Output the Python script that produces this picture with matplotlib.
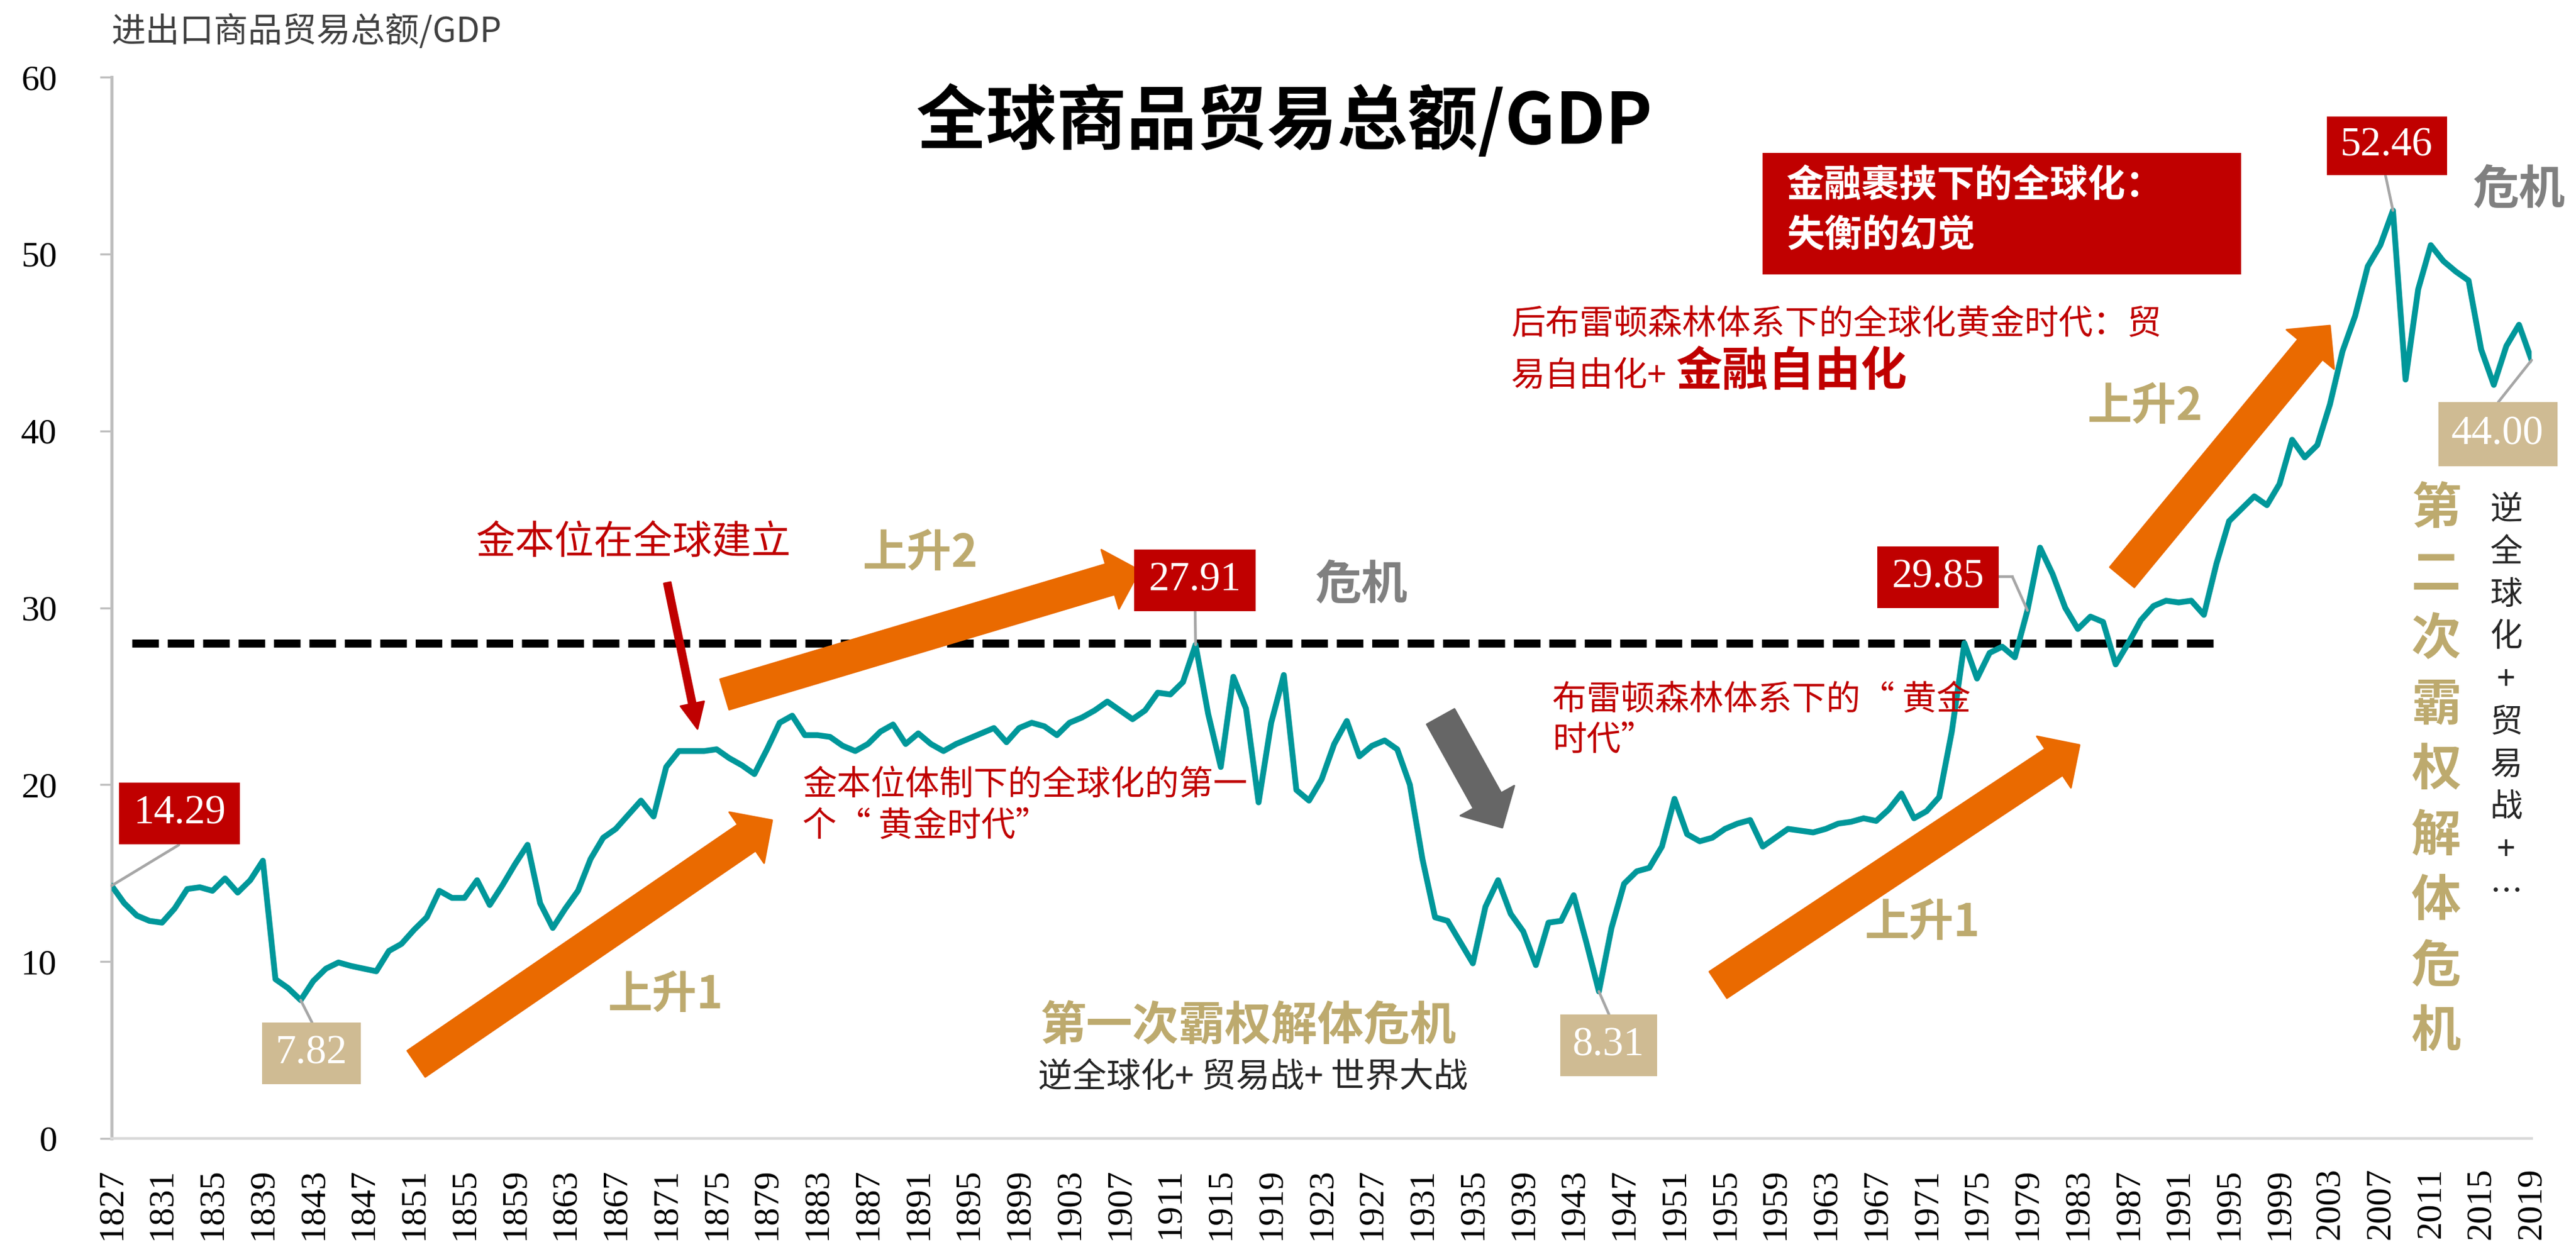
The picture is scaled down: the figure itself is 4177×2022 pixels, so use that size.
import numpy as np
import matplotlib
matplotlib.use('Agg')
import matplotlib.pyplot as plt
from matplotlib.patches import Rectangle, FancyArrowPatch, ArrowStyle
from matplotlib.lines import Line2D
from matplotlib.transforms import Affine2D

plt.rcParams['font.family'] = ['Noto Sans CJK SC', 'DejaVu Sans']

# 进出口商品贸易总额/GDP (%)，1827-2019
years = np.arange(1827, 2020)
trade_gdp = [
    14.29, 13.3, 12.6, 12.3, 12.2, 13.0, 14.1, 14.2, 14.0, 14.7,
    13.9, 14.6, 15.7, 9.0, 8.5, 7.82, 8.9, 9.6, 9.95, 9.75,
    9.6, 9.45, 10.6, 11.0, 11.8, 12.5, 14.0, 13.6, 13.6, 14.6,
    13.2, 14.3, 15.5, 16.6, 13.3, 11.9, 13.0, 14.0, 15.8, 17.0,
    17.5, 18.3, 19.1, 18.2, 21.0, 21.9, 21.9, 21.9, 22.0, 21.5,
    21.1, 20.6, 22.0, 23.5, 23.9, 22.8, 22.8, 22.7, 22.2, 21.9,
    22.3, 23.0, 23.4, 22.3, 22.9, 22.3, 21.9, 22.3, 22.6, 22.9,
    23.2, 22.4, 23.2, 23.5, 23.3, 22.8, 23.5, 23.8, 24.2, 24.7,
    24.2, 23.7, 24.2, 25.2, 25.1, 25.8, 27.91, 24.0, 21.0, 26.1,
    24.3, 19.0, 23.5, 26.2, 19.7, 19.1, 20.3, 22.3, 23.6, 21.6,
    22.2, 22.5, 22.0, 20.0, 15.8, 12.5, 12.3, 11.1, 9.9, 13.1,
    14.6, 12.7, 11.7, 9.8, 12.2, 12.3, 13.75, 11.1, 8.31, 11.9,
    14.4, 15.1, 15.3, 16.5, 19.2, 17.2, 16.8, 17.0, 17.5, 17.8,
    18.0, 16.5, 17.0, 17.5, 17.4, 17.3, 17.5, 17.8, 17.9, 18.1,
    17.95, 18.6, 19.5, 18.1, 18.5, 19.3, 23.0, 28.0, 26.0, 27.45,
    27.8, 27.2, 29.85, 33.4, 31.9, 30.0, 28.8, 29.5, 29.2, 26.8,
    28.0, 29.3, 30.1, 30.4, 30.3, 30.4, 29.6, 32.5, 34.9, 35.6,
    36.3, 35.8, 37.0, 39.5, 38.5, 39.2, 41.5, 44.5, 46.5, 49.3,
    50.5, 52.46, 42.9, 48.0, 50.5, 49.6, 49.0, 48.5, 44.6, 42.6,
    44.8, 46.0, 44.0,
]
xtick_years = list(range(1827, 2020, 4))
ytick_vals = [0, 10, 20, 30, 40, 50, 60]

# 标注点
callout_years = [1827, 1842, 1913, 1945, 1979, 2008, 2019]
callout_vals = [14.29, 7.82, 27.91, 8.31, 29.85, 52.46, 44.00]
callout_kind = ['high', 'low', 'high', 'low', 'high', 'high', 'low']

# 危机线
ref_level = 28
ref_start, ref_end = 1828.6, 1994.4

RED = '#C00000'
TEAL = '#00979A'
ORANGE = '#EA6A00'
TAN_BOX = '#CFBB93'
TAN_TXT = '#BDAA6E'
GREY = '#808080'

W, H = 4177, 2022
fig = plt.figure(figsize=(W / 200, H / 200), dpi=200)
ax = fig.add_axes([181 / W, 176 / H, (4105 - 181) / W, (1846 - 125) / H])
px = Affine2D().scale(1 / W, -1 / H).translate(0, 1) + fig.transFigure

ax.plot(years, trade_gdp, color=TEAL, lw=3.4, solid_joinstyle='round',
        solid_capstyle='round', zorder=3)
ax.hlines(ref_level, ref_start, ref_end, colors='black', lw=4.7,
          linestyles=(0, (3.3, 1.1)), zorder=2)

ax.set_xlim(1827, 2019)
ax.set_ylim(0, 60)
ax.set_xticks(xtick_years)
ax.set_xticklabels([str(y) for y in xtick_years], rotation=90,
                   family='Liberation Serif', fontsize=21)
ax.set_yticks(ytick_vals)
ax.set_yticklabels([str(v) for v in ytick_vals], family='Liberation Serif', fontsize=21)
ax.tick_params(axis='x', length=0, pad=17)
ax.tick_params(axis='y', length=6.8, width=1.2, color='#BFBFBF', pad=25)
for s in ['top', 'right']:
    ax.spines[s].set_visible(False)
ax.spines['left'].set_color('#BFBFBF')
ax.spines['left'].set_linewidth(1.8)
ax.spines['bottom'].set_color('#D9D9D9')
ax.spines['bottom'].set_linewidth(1.6)

# 数值框 (中心x, 中心y, 宽, 高, 引线起点)
boxes = [
    (291, 1319, 196, 100, (290, 1370)),
    (505, 1708, 160, 100, (506, 1658)),
    (1937, 941, 197, 100, (1938, 991)),
    (2608, 1695, 157, 100, (2609, 1645)),
    (3142, 936, 197, 100, (3263, 935)),
    (3870, 236, 195, 95, (3868, 284)),
    (4050, 704, 193, 104, (4051, 652)),
]
for (cx, cy, bw, bh, lead), yr, val, kind in zip(boxes, callout_years, callout_vals, callout_kind):
    fc = RED if kind == 'high' else TAN_BOX
    fig.add_artist(Rectangle((cx - bw / 2, cy - bh / 2), bw, bh, transform=px,
                             facecolor=fc, edgecolor='none', zorder=4))
    fig.text(cx, cy, f'{val:.2f}', transform=px, ha='center', va='center',
             color='white', family='Liberation Serif', fontsize=24, zorder=5)
    ax.annotate('', xy=(yr, val), xycoords='data', xytext=lead, textcoords=px,
                arrowprops=dict(arrowstyle='-', color='#A6A6A6', lw=1.6,
                                shrinkA=0, shrinkB=0), zorder=4)
# 29.85 的折线引线
fig.add_artist(Line2D([3240, 3263], [935, 935], transform=px, color='#A6A6A6', lw=1.6))

# 箭头
big = ArrowStyle('Simple', head_length=18, head_width=36, tail_width=18.5)
for a, b, c in [((675, 1725), (1252, 1330), ORANGE),
                ((1175, 1126), (1848, 925), ORANGE),
                ((2786, 1597), (3372, 1208), ORANGE),
                ((3441, 936), (3778, 528), ORANGE),
                ((2336, 1162), (2436, 1342), '#666666')]:
    fig.add_artist(FancyArrowPatch(a, b, transform=px, arrowstyle=big, mutation_scale=1,
                                   color=c, shrinkA=0, shrinkB=0, zorder=3))
fig.add_artist(FancyArrowPatch((1082, 945), (1131, 1182), transform=px,
                               arrowstyle=ArrowStyle('Simple', head_length=15, head_width=14, tail_width=4),
                               mutation_scale=1, color=RED, shrinkA=0, shrinkB=0, zorder=3))

# 文字
def t(x, y, s, ha='center', **kw):
    fig.text(x, y, s, transform=px, ha=ha, va='center', **kw)

t(2082, 198, '全球商品贸易总额/GDP', fontsize=41, weight='bold', color='black')
t(181, 52, '进出口商品贸易总额/GDP', ha='left', fontsize=20, color='#404040')

t(1027, 880, '金本位在全球建立', fontsize=23, color=RED)
t(1492, 898, '上升2', fontsize=26, weight='bold', color=TAN_TXT)
t(1079, 1614, '上升1', fontsize=26, weight='bold', color=TAN_TXT)
t(3117, 1497, '上升1', fontsize=26, weight='bold', color=TAN_TXT)
t(3478, 660, '上升2', fontsize=26, weight='bold', color=TAN_TXT)
t(2207, 949, '危机', fontsize=27, weight='bold', color=GREY)
t(4084, 308, '危机', fontsize=27, weight='bold', color=GREY)

t(1301, 1273, '金本位体制下的全球化的第一', ha='left', fontsize=20, color=RED)
t(1301, 1340, '个“ 黄金时代”', ha='left', fontsize=20, color=RED)
t(2517, 1135, '布雷顿森林体系下的“ 黄金', ha='left', fontsize=20, color=RED)
t(2517, 1201, '时代”', ha='left', fontsize=20, color=RED)

t(2450, 526, '后布雷顿森林体系下的全球化黄金时代：贸', ha='left', fontsize=20, color=RED)
t(2450, 611, '易自由化+', ha='left', fontsize=20, color=RED)
t(2717, 603, '金融自由化', ha='left', fontsize=27, weight='bold', color=RED)

fig.add_artist(Rectangle((2858, 248), 776, 197, transform=px, facecolor=RED,
                         edgecolor='none', zorder=2))
t(2897, 301, '金融裹挟下的全球化：', ha='left', fontsize=22, weight='bold', color='white', zorder=3)
t(2897, 383, '失衡的幻觉', ha='left', fontsize=22, weight='bold', color='white', zorder=3)

t(2024, 1664, '第一次霸权解体危机', fontsize=27, weight='bold', color=TAN_TXT)
t(1683, 1747, '逆全球化+ 贸易战+ 世界大战', ha='left', fontsize=20, color='#262626')

for i, ch in enumerate('第二次霸权解体危机'):
    t(3950, 826 + i * 106, ch, fontsize=29, weight='bold', color=TAN_TXT)
for i, ch in enumerate(['逆', '全', '球', '化', '+', '贸', '易', '战', '+', '…']):
    t(4064, 826 + i * 69, ch, fontsize=19, color='#262626')

fig.savefig('out.png', dpi=200)
